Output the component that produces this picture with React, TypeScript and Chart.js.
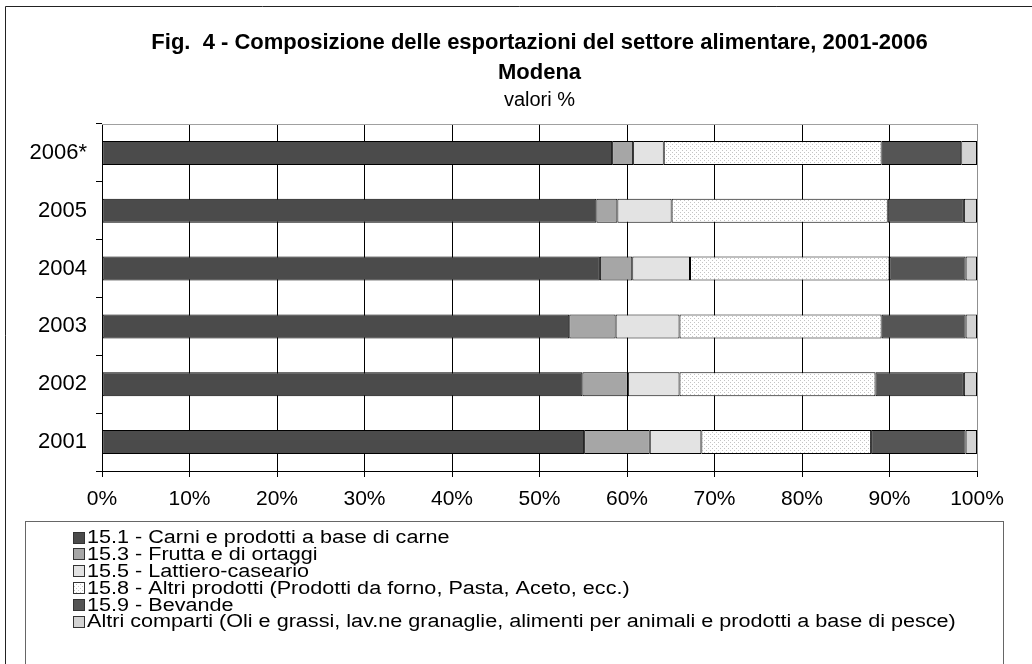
import React, { useEffect, useRef } from 'react';
import { Chart, registerables } from 'chart.js';

Chart.register(...registerables);

const years = ['2006*', '2005', '2004', '2003', '2002', '2001'];
const seriesLabels = [
  '15.1 - Carni e prodotti a base di carne',
  '15.3 - Frutta e di ortaggi',
  '15.5 - Lattiero-caseario',
  '15.8 - Altri prodotti (Prodotti da forno, Pasta, Aceto, ecc.)',
  '15.9 - Bevande',
  'Altri comparti (Oli e grassi, lav.ne granaglie, alimenti per animali e prodotti a base di pesce)',
];
const carni = [58.3, 56.5, 56.9, 53.4, 54.9, 55.1];
const frutta = [2.4, 2.4, 3.7, 5.3, 5.2, 7.5];
const lattiero = [3.5, 6.2, 6.6, 7.3, 5.9, 5.9];
const altriProdotti = [24.9, 24.7, 22.8, 23.1, 22.4, 19.4];
const bevande = [9.1, 8.7, 8.7, 9.6, 10.1, 10.8];
const altriComparti = [1.8, 1.5, 1.3, 1.3, 1.5, 1.3];
const titleLines = ['Fig.  4 - Composizione delle esportazioni del settore alimentare, 2001-2006', 'Modena'];
const subtitleText = 'valori %';

const FONT = "'Liberation Sans', Arial, sans-serif";

function makeDots(): CanvasPattern | string {
  const c = document.createElement('canvas');
  c.width = 4;
  c.height = 4;
  const g = c.getContext('2d');
  if (!g) return '#f4f4f4';
  g.fillStyle = '#ffffff';
  g.fillRect(0, 0, 4, 4);
  g.fillStyle = '#c4c4c4';
  g.fillRect(0, 0, 1, 1);
  g.fillRect(2, 2, 1, 1);
  return g.createPattern(c, 'repeat') || '#f4f4f4';
}

const framePlugin = {
  id: 'framePlugin',
  beforeDraw(chart: any) {
    const { ctx, width, height } = chart;
    ctx.save();
    ctx.fillStyle = '#ffffff';
    ctx.fillRect(0, 0, width, height);
    ctx.restore();
  },
  afterDraw(chart: any) {
    const { ctx, chartArea } = chart;
    ctx.save();
    // top border of plot area
    ctx.strokeStyle = '#a0a0a0';
    ctx.lineWidth = 1;
    ctx.beginPath();
    ctx.moveTo(chartArea.left, Math.round(chartArea.top) + 0.5);
    ctx.lineTo(chartArea.right, Math.round(chartArea.top) + 0.5);
    ctx.stroke();
    // outer frame
    ctx.strokeStyle = '#222';
    ctx.beginPath();
    ctx.moveTo(5.5, 700);
    ctx.lineTo(5.5, 6.5);
    ctx.lineTo(1040, 6.5);
    ctx.stroke();
    // legend box
    const boxTop = Math.round(chartArea.bottom) + 50;
    ctx.strokeStyle = '#666';
    ctx.strokeRect(25.5, boxTop + 0.5, 978, 200);
    // legend entries
    ctx.font = `18px ${FONT}`;
    ctx.textBaseline = 'middle';
    ctx.textAlign = 'left';
    chart.data.datasets.forEach((ds: any, i: number) => {
      const y = boxTop + 16.5 + i * 16.8;
      ctx.fillStyle = ds.backgroundColor;
      ctx.fillRect(73, Math.round(y - 6), 12, 12);
      ctx.strokeStyle = '#333';
      ctx.strokeRect(73.5, Math.round(y - 6) + 0.5, 11, 11);
      ctx.fillStyle = '#000';
      ctx.save();
      ctx.translate(87, y + 1);
      ctx.scale(1.2, 1);
      ctx.fillText(ds.label, 0, 0);
      ctx.restore();
    });
    ctx.restore();
  },
};

export default function App() {
  const ref = useRef<HTMLCanvasElement>(null);
  useEffect(() => {
    if (!ref.current) return;
    const dots = makeDots();
    const series = [carni, frutta, lattiero, altriProdotti, bevande, altriComparti];
    const colors: any[] = ['#4b4b4b', '#a6a6a6', '#e3e3e3', dots, '#555555', '#d3d3d3'];
    const chart = new Chart(ref.current, {
      type: 'bar',
      data: {
        labels: years,
        datasets: series.map((d, i) => ({
          label: seriesLabels[i],
          data: d,
          backgroundColor: colors[i],
          borderColor: '#000',
          borderWidth: 1,
          borderSkipped: false,
          categoryPercentage: 1,
          barPercentage: 0.414,
        })),
      },
      options: {
        indexAxis: 'y',
        responsive: false,
        animation: false,
        layout: { padding: { left: 0, right: 55, top: 0, bottom: 143 } },
        plugins: {
          legend: { display: false },
          tooltip: { enabled: false },
          title: {
            display: true,
            fullSize: false,
            text: titleLines,
            color: '#000',
            font: { family: FONT, size: 22, weight: 'bold', lineHeight: 30 / 22 },
            padding: { top: 28, bottom: 0 },
          },
          subtitle: {
            display: true,
            fullSize: false,
            text: subtitleText,
            color: '#000',
            font: { family: FONT, size: 20, weight: 'normal', lineHeight: 1.2 },
            padding: { top: 0, bottom: 12 },
          },
        },
        scales: {
          x: {
            stacked: true,
            min: 0,
            max: 100,
            afterFit: (s: any) => {
              s.height = 50;
            },
            ticks: {
              stepSize: 10,
              color: '#000',
              padding: 10,
              maxRotation: 0,
              font: { family: FONT, size: 21 },
              callback: (v: any) => `${v}%`,
            },
            grid: {
              color: (c: any) => (c.tick && c.tick.value === 100 ? '#909090' : '#000'),
              tickColor: '#000',
              tickLength: 6,
              lineWidth: 1,
            },
            border: { color: '#000', width: 1 },
          },
          y: {
            stacked: true,
            afterFit: (s: any) => {
              s.width = 102;
            },
            ticks: {
              color: '#000',
              padding: 9,
              font: { family: FONT, size: 22 },
            },
            grid: {
              offset: true,
              drawOnChartArea: false,
              tickLength: 6,
              color: '#000',
            },
            border: { color: '#000', width: 1 },
          },
        },
      },
      plugins: [framePlugin],
    });
    return () => chart.destroy();
  }, []);
  return (
    <div style={{ position: 'fixed', left: 0, top: 0, width: 1032, height: 664, background: '#fff' }}>
      <canvas ref={ref} width={1032} height={664} />
    </div>
  );
}
